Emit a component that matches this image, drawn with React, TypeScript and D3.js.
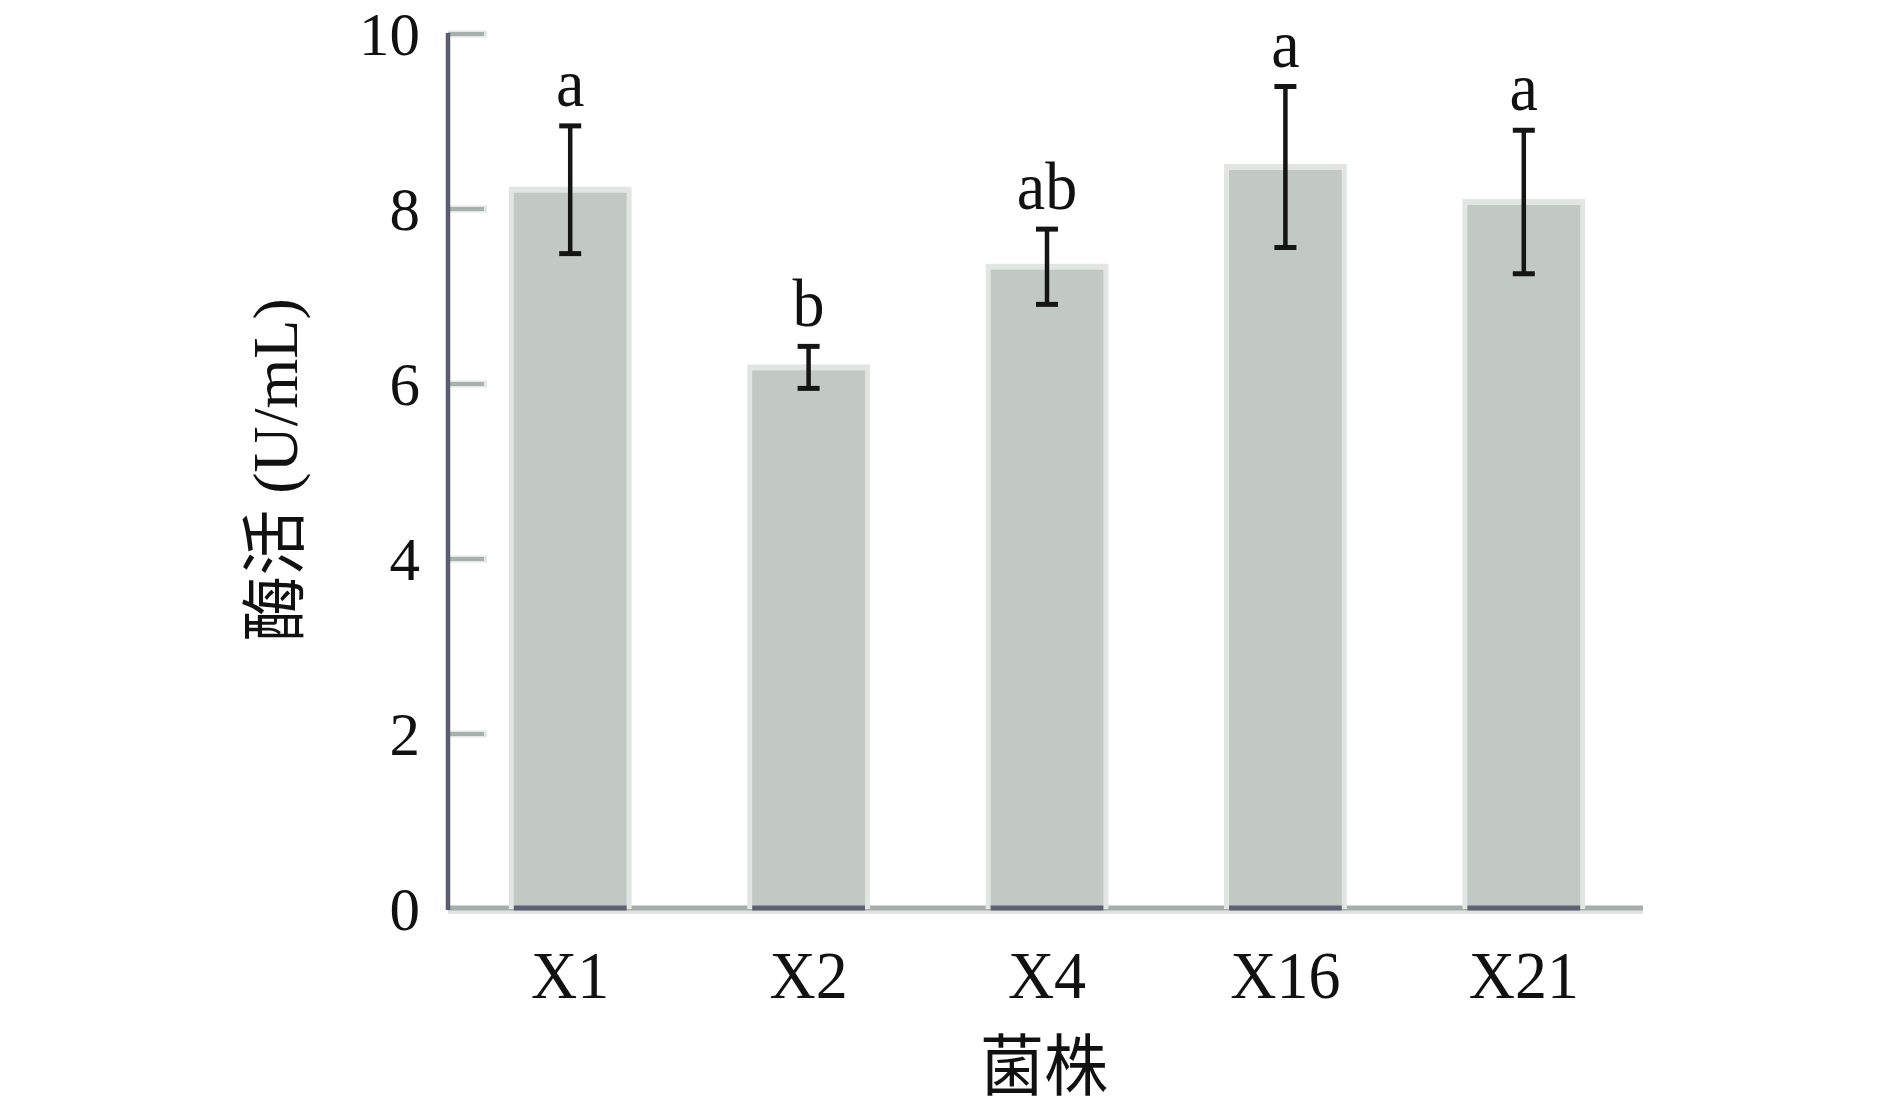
import React from "react";
import * as d3 from "d3";

const categories = ["X1", "X2", "X4", "X16", "X21"];
const means = [8.22, 6.19, 7.34, 8.48, 8.08];
const errors = [0.73, 0.24, 0.43, 0.92, 0.82];
const sigLetters = ["a", "b", "ab", "a", "a"];
const yTicks = [0, 2, 4, 6, 8, 10];
const xTitle = "菌株";
const yTitleCJK = "酶活";
const yTitleUnit = " (U/mL)";

const W = 1890;
const H = 1107;
const FONT = "'Liberation Serif', 'Times New Roman', 'Noto Sans CJK SC', serif";
const SY = 1.05;

export default function App() {
  const y = d3.scaleLinear().domain([0, 10]).range([909, 34]);
  const x = d3
    .scaleBand<string>()
    .domain(categories)
    .range([451, 1643])
    .paddingInner(0.485)
    .paddingOuter(0.2425);
  const bw = x.bandwidth();
  const axisX = 448;
  const axisEnd = 1643;

  const T = (tx: number, ty: number, extra = "") =>
    `translate(${tx},${ty}) scale(1,${SY})${extra}`;

  return (
    <svg
      width={W}
      height={H}
      viewBox={`0 0 ${W} ${H}`}
      style={{ position: "absolute", left: 0, top: 0, background: "#fff" }}
      fontFamily={FONT}
    >
      {/* y ticks */}
      {yTicks.map((t) => (
        <g key={t}>
          {t > 0 && (
            <>
              <line x1={axisX} x2={487} y1={y(t)} y2={y(t)} stroke="#e3e7e4" strokeWidth={7} />
              <line x1={axisX} x2={484} y1={y(t)} y2={y(t)} stroke="#a7b0ad" strokeWidth={4} />
            </>
          )}
          <text
            x={420}
            y={y(t)}
            textAnchor="end"
            dominantBaseline="central"
            fontSize={61}
            fill="#111"
          >
            {t}
          </text>
        </g>
      ))}

      {/* x axis base */}
      <line x1={axisX} x2={axisEnd} y1={912} y2={912} stroke="#e0e4e1" strokeWidth={4} />
      <line x1={axisX} x2={axisEnd} y1={908} y2={908} stroke="#a5aeab" strokeWidth={5} />

      {/* bars */}
      {categories.map((c, i) => {
        const x0 = x(c)!;
        const top = y(means[i]);
        return (
          <g key={c}>
            <rect x={x0} y={top - 3} width={bw} height={909 - top + 3} fill="#e2e6e3" />
            <rect x={x0 + 5} y={top + 3} width={bw - 10} height={909 - top - 3} fill="#c2c8c4" />
            <line x1={x0 + 5} x2={x0 + bw - 5} y1={908} y2={908} stroke="#5e6174" strokeWidth={5} />
          </g>
        );
      })}

      {/* y axis line */}
      <line x1={axisX} x2={axisX} y1={33} y2={910} stroke="#5a5d70" strokeWidth={4.5} />

      {/* error bars */}
      {categories.map((c, i) => {
        const cx = x(c)! + bw / 2;
        const hi = y(means[i] + errors[i]);
        const lo = y(means[i] - errors[i]);
        return (
          <g key={c} stroke="#151515">
            <line x1={cx} x2={cx} y1={hi} y2={lo} strokeWidth={4.5} />
            <line x1={cx - 11} x2={cx + 11} y1={hi} y2={hi} strokeWidth={5} />
            <line x1={cx - 11} x2={cx + 11} y1={lo} y2={lo} strokeWidth={5} />
          </g>
        );
      })}

      {/* significance letters */}
      {categories.map((c, i) => (
        <text
          key={c}
          transform={T(x(c)! + bw / 2, y(means[i] + errors[i]) - 20)}
          textAnchor="middle"
          fontSize={64}
          fill="#111"
        >
          {sigLetters[i]}
        </text>
      ))}

      {/* x tick labels */}
      {categories.map((c) => (
        <text
          key={c}
          transform={T(x(c)! + bw / 2, 998)}
          textAnchor="middle"
          fontSize={64}
          fill="#111"
        >
          {c}
        </text>
      ))}

      {/* axis titles */}
      <text transform={T(1044, 1090)} textAnchor="middle" fontSize={64} fill="#111">
        {xTitle}
      </text>
      <text
        transform={`translate(275,470) rotate(-90)`}
        textAnchor="middle"
        dominantBaseline="central"
        fill="#111"
      >
        <tspan fontSize={66}>{yTitleCJK}</tspan>
        <tspan fontSize={64}>{yTitleUnit}</tspan>
      </text>
    </svg>
  );
}
